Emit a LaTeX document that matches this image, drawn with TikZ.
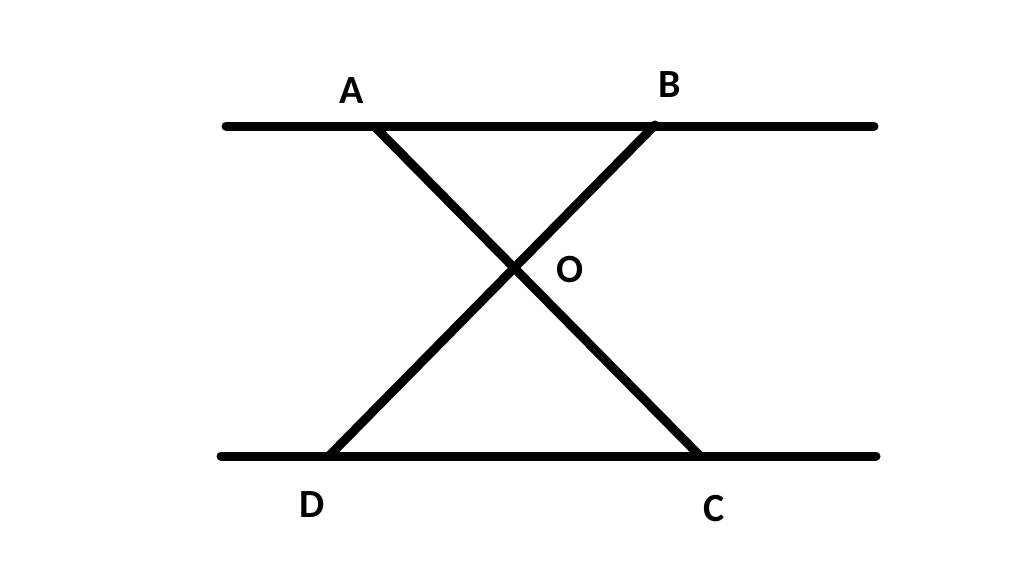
\documentclass[tikz,border=0pt]{standalone}
\usepackage{fontspec}
\setmainfont{Carlito}
\begin{document}
\begin{tikzpicture}[x=1pt,y=-1pt,
  seg/.style={line width=9pt,line cap=round},
  lbl/.style={font=\fontsize{40}{40}\selectfont\bfseries,inner sep=0pt}]
\useasboundingbox[fill=white] (0,0) rectangle (1024,574);
\coordinate (L1) at (226,126);
\coordinate (R1) at (874,126);
\coordinate (L2) at (221,456);
\coordinate (R2) at (876,456);
\coordinate (A) at (375,127);
\coordinate (B) at (655,125);
\coordinate (C) at (700,456);
\coordinate (D) at (329,456);
\draw[seg] (L1) -- (R1);
\draw[seg] (L2) -- (R2);
\draw[seg] (A) -- (C);
\draw[seg] (B) -- (D);
\node[lbl] (la) at (352,91) {A};
\node[lbl] (lb) at (670,85) {B};
\node[lbl] (lo) at (570,270) {O};
\node[lbl] (ld) at (312,505) {D};
\node[lbl] (lc) at (714,509) {C};
\end{tikzpicture}
\end{document}
